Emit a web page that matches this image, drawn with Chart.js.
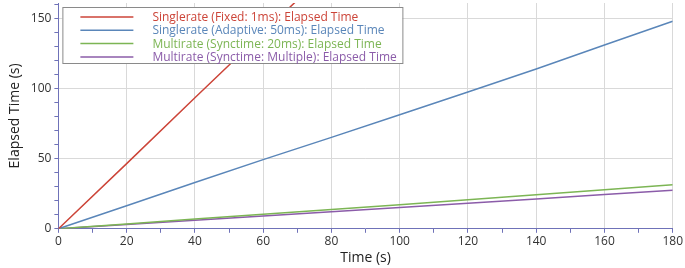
<!DOCTYPE html>
<html>
<head>
<meta charset="utf-8">
<script src="https://cdn.jsdelivr.net/npm/chart.js@4"></script>
<style>
  html, body { margin: 0; padding: 0; background: #fff; }
  #wrap { width: 685px; height: 268px; }
</style>
</head>
<body>
<div id="wrap"><canvas id="elapsedChart"></canvas></div>
<script>
const times = [0, 20, 40, 60, 80, 100, 120, 140, 160, 180];

// red line leaves the plot near t = 69 s
const fixedTimes = [0, 20, 40, 60, 70];
const singlerateFixed = [0, 46.5, 93.5, 140, 163];

const singlerateAdaptive = [0, 16.4, 33, 49.3, 65.2, 81.3, 97.5, 114, 131, 148];
const multirate20ms = [0, 3.4, 6.9, 10.3, 13.8, 17.1, 20.7, 24.2, 27.8, 31.4];
const multirateMultiple = [0, 3.1, 6.1, 9.2, 12.2, 15.1, 18.3, 21.3, 24.4, 27.4];

const seriesLabels = [
  "Singlerate (Fixed: 1ms): Elapsed Time",
  "Singlerate (Adaptive: 50ms): Elapsed Time",
  "Multirate (Synctime: 20ms): Elapsed Time",
  "Multirate (Synctime: Multiple): Elapsed Time"
];
const seriesColors = ["#cc4438", "#5a86b9", "#7cb554", "#8b5ca9"];

const axisColor = "#6f72b8";
const fontFamily = "'Open Sans', 'Noto Sans', sans-serif";

function toPoints(xs, ys) {
  return ys.map((y, i) => ({ x: xs[i], y: y }));
}

// legend drawn inside the plot, top left
const innerLegend = {
  id: "innerLegend",
  afterDraw(chart) {
    const ctx = chart.ctx;
    const area = chart.chartArea;
    const x0 = area.left + 4;
    const y0 = area.top + 4;
    ctx.save();
    ctx.fillStyle = "#fff";
    ctx.fillRect(x0, y0, 340, 56);
    ctx.strokeStyle = "#8a8a8a";
    ctx.lineWidth = 1;
    ctx.strokeRect(x0 + 0.5, y0 + 0.5, 340, 56);
    ctx.font = "12px " + fontFamily;
    ctx.textBaseline = "middle";
    chart.data.datasets.forEach((ds, i) => {
      const y = y0 + 10 + i * 13.3;
      ctx.strokeStyle = ds.borderColor;
      ctx.lineWidth = 1.5;
      ctx.beginPath();
      ctx.moveTo(x0 + 18, y);
      ctx.lineTo(x0 + 71, y);
      ctx.stroke();
      ctx.fillStyle = ds.borderColor;
      ctx.fillText(ds.label, x0 + 90, y + 0.5);
    });
    ctx.restore();
  }
};

const ctx = document.getElementById("elapsedChart");

new Chart(ctx, {
  type: "line",
  data: {
    datasets: [
      { label: seriesLabels[0], data: toPoints(fixedTimes, singlerateFixed), borderColor: seriesColors[0] },
      { label: seriesLabels[1], data: toPoints(times, singlerateAdaptive), borderColor: seriesColors[1] },
      { label: seriesLabels[2], data: toPoints(times, multirate20ms), borderColor: seriesColors[2] },
      { label: seriesLabels[3], data: toPoints(times, multirateMultiple), borderColor: seriesColors[3] }
    ].map(ds => Object.assign(ds, { borderWidth: 1.5, pointRadius: 0, fill: false, tension: 0 }))
  },
  options: {
    responsive: true,
    maintainAspectRatio: false,
    animation: false,
    layout: { padding: { top: 3, right: 6, left: 7, bottom: 0 } },
    plugins: {
      legend: { display: false },
      tooltip: { enabled: false }
    },
    scales: {
      x: {
        type: "linear",
        min: 0,
        max: 180,
        border: { color: axisColor, width: 1 },
        grid: {
          color: c => (c.tick && c.tick.value % 20 === 0 && c.tick.value > 0) ? "#d9d9d9" : "rgba(0,0,0,0)",
          tickColor: axisColor,
          tickLength: 4
        },
        ticks: {
          stepSize: 10,
          autoSkip: false,
          maxRotation: 0,
          padding: 2,
          color: "#333",
          font: { family: fontFamily, size: 12 },
          callback: v => (v % 20 === 0 ? v : "")
        },
        title: {
          display: true,
          text: "Time (s)",
          color: "#222",
          font: { family: fontFamily, size: 14 },
          padding: { top: -2, bottom: 2 }
        }
      },
      y: {
        min: 0,
        max: 161,
        afterFit: scale => { scale.paddingTop = 0; },
        border: { color: axisColor, width: 1 },
        grid: {
          color: c => (c.tick && c.tick.value % 50 === 0 && c.tick.value > 0) ? "#d9d9d9" : "rgba(0,0,0,0)",
          tickColor: axisColor,
          tickLength: 4
        },
        ticks: {
          stepSize: 10,
          autoSkip: false,
          includeBounds: false,
          color: "#333",
          font: { family: fontFamily, size: 12 },
          callback: v => (v % 50 === 0 ? v : "")
        },
        title: {
          display: true,
          text: "Elapsed Time (s)",
          color: "#222",
          font: { family: fontFamily, size: 14 },
          padding: { top: 0, bottom: 4 }
        }
      }
    }
  },
  plugins: [innerLegend]
});
</script>
</body>
</html>
